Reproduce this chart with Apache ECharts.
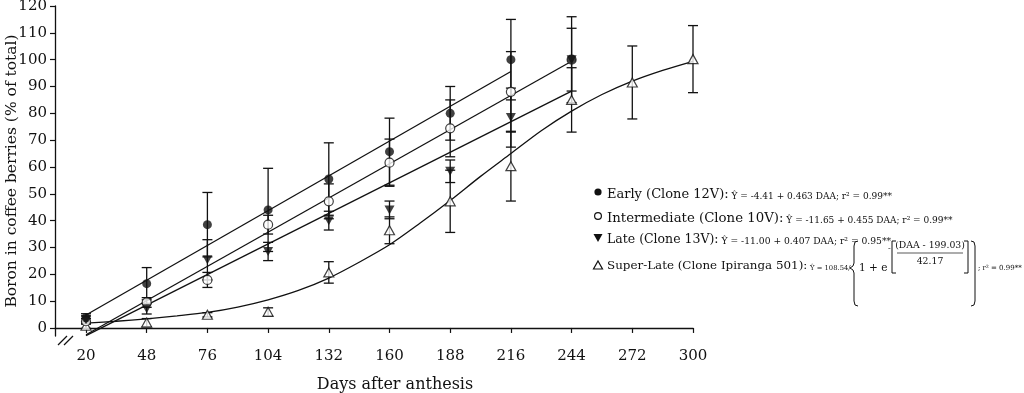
<!DOCTYPE html>
<html>
<head>
<meta charset="utf-8">
<script src="https://cdn.jsdelivr.net/npm/echarts@6/dist/echarts.min.js"></script>
<style>
html,body{margin:0;padding:0;background:#fff;}
#chart{width:1024px;height:393px;}
</style>
</head>
<body>
<div id="chart"></div>
<script>
// ---- data ----
const xTicks = [20,48,76,104,132,160,188,216,244,272,300];
const yTicks = [0,10,20,30,40,50,60,70,80,90,100,110,120];

const earlyDays = [20,48,76,104,132,160,188,216,244];
const earlyMean = [3.8,16.5,38.5,44,55.5,65.7,80,100,100];
const earlyErr  = [1.5,6,12,15.5,13.5,12.5,10,15,0];

const interDays = [20,48,76,104,132,160,188,216,244];
const interMean = [2.5,9.5,17.9,38.5,47.2,61.6,74.4,88,100];
const interErr  = [1,1.8,2.8,3.5,6.5,8.8,10.6,15,16];

const lateDays = [20,48,76,104,132,160,188,216,244];
const lateMean = [3,7.2,25.4,28.5,40,44,58.4,78.4,100];
const lateErr  = [1.5,2,7.5,3.4,3.5,3.3,4.2,11,11.7];

const superDays = [20,48,76,104,132,160,188,216,244,272,300];
const superMean = [0.8,2,4.9,6,20.7,36.4,47.2,60.3,85,91.5,100.2];
const superErr  = [1,1.5,0.8,1.5,4,5,11.6,13,12,13.6,12.5];

// fitted curves
const earlyFit = [[20,4.85],[216,95.6]];
const interFit = [[20,-2.55],[244,99.4]];
const lateFit  = [[20,-2.86],[244,88.3]];
const superFit = [[20,1.8],[34,2.5],[48,3.4],[62,4.5],[76,5.8],[90,7.8],[104,10.5],[118,14],[132,18.6],[146,24.5],
                  [160,31],[174,39],[188,47.5],[202,56.5],[216,65],[230,73.5],[244,80.8],[258,87],[272,92],[286,96],[300,99.4]];

// ---- helpers ----
const INK = '#111';
function pts(days, mean){ return days.map((d,i)=>[d,mean[i]]); }
function errs(days, mean, err){ return days.map((d,i)=>[d,mean[i]-err[i],mean[i]+err[i]]).filter((r,i)=>err[i]>0); }
function errSeries(data){
  return {
    type:'custom', z:3, silent:true,
    data:data,
    renderItem:function(params, api){
      const x = api.value(0), lo = api.value(1), hi = api.value(2);
      const p1 = api.coord([x,lo]), p2 = api.coord([x,hi]);
      const w = 5;
      const st = {stroke:INK, lineWidth:1.3};
      return {type:'group', children:[
        {type:'line', shape:{x1:p1[0],y1:p1[1],x2:p2[0],y2:p2[1]}, style:st},
        {type:'line', shape:{x1:p1[0]-w,y1:p1[1],x2:p1[0]+w,y2:p1[1]}, style:st},
        {type:'line', shape:{x1:p2[0]-w,y1:p2[1],x2:p2[0]+w,y2:p2[1]}, style:st}
      ]};
    }
  };
}
function fitLine(data, smooth){
  return {type:'line', data:data, symbol:'none', smooth:smooth?0.3:false, z:2, silent:true,
          lineStyle:{color:INK, width:1.3}};
}

const chart = echarts.init(document.getElementById('chart'), null, {renderer:'canvas'});
const SERIF = 'DejaVu Serif';

function txt(x, y, s, size, align){
  return {type:'text', x:x, y:y, style:{text:s, fontFamily:SERIF, fontSize:size, fill:'#111',
          align:align||'left', verticalAlign:'middle'}};
}
function row(y, name, eq, nameSize, eqSize){
  return {type:'text', x:607, y:y, style:{
    text:'{a|'+name+'}{b| '+eq+'}', verticalAlign:'middle',
    rich:{a:{fontFamily:SERIF,fontSize:nameSize,fill:'#111',verticalAlign:'bottom',lineHeight:16},
          b:{fontFamily:SERIF,fontSize:eqSize,fill:'#111',verticalAlign:'bottom',lineHeight:14.5}}
  }};
}
function poly(points, w){
  return {type:'polyline', shape:{points:points}, style:{fill:null, stroke:INK, lineWidth:w||1}};
}
const LX = 598;
const graphics = [
  // axis break marks
  {type:'line', shape:{x1:58,y1:345,x2:67,y2:336}, style:{stroke:INK,lineWidth:1.2}},
  {type:'line', shape:{x1:64,y1:345,x2:73,y2:336}, style:{stroke:INK,lineWidth:1.2}},
  // legend markers
  {type:'circle', shape:{cx:LX,cy:192,r:3.6}, style:{fill:INK}},
  {type:'circle', shape:{cx:LX,cy:216,r:3.4}, style:{fill:'#fff',stroke:INK,lineWidth:1.2}},
  {type:'polygon', shape:{points:[[LX-4.5,234],[LX+4.5,234],[LX,242]]}, style:{fill:INK}},
  {type:'polygon', shape:{points:[[LX-4.5,269],[LX+4.5,269],[LX,261]]}, style:{fill:'#fff',stroke:INK,lineWidth:1.2}},
  row(193,'Early (Clone 12V):','Ŷ = -4.41 + 0.463 DAA; r² = 0.99**', 13, 9),
  row(217,'Intermediate (Clone 10V):','Ŷ = -11.65 + 0.455 DAA; r² = 0.99**', 13.3, 9),
  row(238,'Late (Clone 13V):','Ŷ = -11.00 + 0.407 DAA; r² = 0.95**', 12.5, 9.2),
  txt(607, 266, 'Super-Late (Clone Ipiranga 501):', 11.9),
  txt(810, 268, 'Ŷ = 108.54/', 6.8),
  // left brace
  poly([[858,241],[855,242],[854,246],[854,263],[853,266],[850,268],[853,270],[854,273],[854,301],[855,305],[858,306]]),
  txt(859, 268, '1 + e', 10.5),
  txt(888, 249, '-', 8),
  poly([[896,241],[892,241],[892,273],[896,273]]),
  txt(930, 246, '(DAA - 199.03)', 9.3, 'center'),
  {type:'line', shape:{x1:897,y1:253,x2:963,y2:253}, style:{stroke:INK,lineWidth:0.7}},
  txt(930, 262, '42.17', 9.3, 'center'),
  poly([[964,241],[968,241],[968,273],[964,273]]),
  // right brace
  poly([[971,241],[974,242],[975,246],[975,301],[974,305],[971,306]]),
  txt(978, 268, '; r² = 0.99**', 7)
];

const option = {
  animation:false,
  backgroundColor:'#fff',
  grid:{left:55, right:331, top:6, bottom:57, containLabel:false, outerBoundsMode:'none'},
  xAxis:{
    type:'value', min:5.7, max:300,
    name:'Days after anthesis', nameLocation:'middle', nameGap:41, nameMoveOverlap:false,
    nameTextStyle:{fontFamily:SERIF, fontSize:16, color:'#111', padding:[0,0,0,42]},
    axisLine:{lineStyle:{color:INK,width:1.3}},
    axisTick:{show:true, length:5, lineStyle:{color:INK,width:1.2}, customValues:xTicks},
    axisLabel:{fontFamily:SERIF, fontSize:15, color:'#111', margin:13, customValues:xTicks},
    splitLine:{show:false}
  },
  yAxis:{
    type:'value', min:-3, max:120,
    name:'Boron in coffee berries (% of total)', nameLocation:'middle', nameGap:43, nameRotate:90, nameMoveOverlap:false,
    nameTextStyle:{fontFamily:SERIF, fontSize:15.5, color:'#111', verticalAlign:'middle'},
    axisLine:{show:true, lineStyle:{color:INK,width:1.3}},
    axisTick:{show:true, length:5, lineStyle:{color:INK,width:1.2}, customValues:yTicks},
    axisLabel:{fontFamily:SERIF, fontSize:15, color:'#111', margin:8, customValues:yTicks},
    splitLine:{show:false}
  },
  graphic:graphics,
  series:[
    fitLine(earlyFit), fitLine(interFit), fitLine(lateFit), fitLine(superFit,true),
    errSeries(errs(earlyDays,earlyMean,earlyErr)),
    errSeries(errs(interDays,interMean,interErr)),
    errSeries(errs(lateDays,lateMean,lateErr)),
    errSeries(errs(superDays,superMean,superErr)),
    {name:'Super-Late (Clone Ipiranga 501)', type:'scatter', z:5, data:pts(superDays,superMean), symbol:'triangle', symbolSize:[10,9],
     itemStyle:{color:'#fff', borderColor:INK, borderWidth:1.2}},
    {name:'Intermediate (Clone 10V)', type:'scatter', z:5, data:pts(interDays,interMean), symbol:'circle', symbolSize:9,
     itemStyle:{color:'#fff', borderColor:INK, borderWidth:1.2}},
    {name:'Late (Clone 13V)', type:'scatter', z:6, data:pts(lateDays,lateMean), symbol:'triangle', symbolRotate:180, symbolSize:[10,9],
     itemStyle:{color:INK}},
    {name:'Early (Clone 12V)', type:'scatter', z:7, data:pts(earlyDays,earlyMean), symbol:'circle', symbolSize:9,
     itemStyle:{color:INK}}
  ]
};
chart.setOption(option);
</script>
</body>
</html>
